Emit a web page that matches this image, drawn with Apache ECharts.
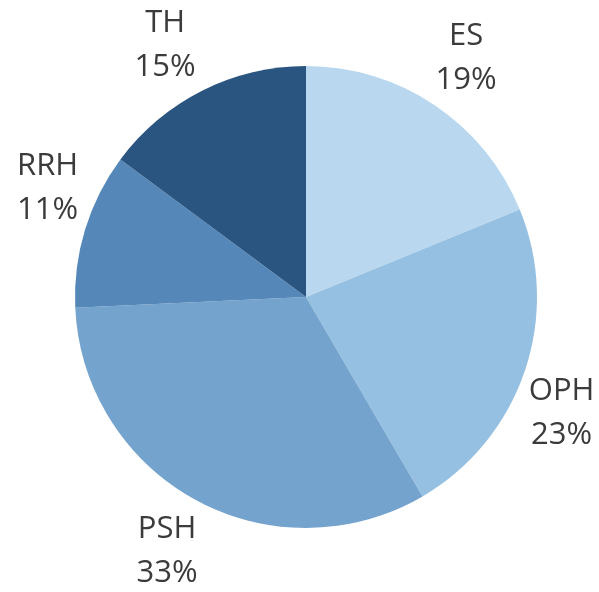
<!DOCTYPE html>
<html>
<head>
<meta charset="utf-8">
<script src="https://cdn.jsdelivr.net/npm/echarts@6/dist/echarts.min.js"></script>
<style>
  html, body { margin: 0; padding: 0; background: #fff; }
  #main { width: 599px; height: 592px; }
</style>
</head>
<body>
<div id="main"></div>
<script>
var categories = ['ES', 'OPH', 'PSH', 'RRH', 'TH']
var values = [19, 23, 33, 11, 15]
var colors = ['#b9d8ef', '#96c0e1', '#74a3cd', '#5588b8', '#2a5581']

// small nudges so labels sit where the original (best-fit) placed them
var labelNudge = {
  ES: [-2, 3],
  OPH: [-20, 23],
  PSH: [0, -2],
  RRH: [20, -24],
  TH: [-10, 8]
}

var chart = echarts.init(document.getElementById('main'))
chart.setOption({
  animation: false,
  series: [
    {
      // the pie itself
      type: 'pie',
      center: [306, 297],
      radius: [0, 231],
      startAngle: 90,
      clockwise: true,
      silent: true,
      label: { show: false },
      labelLine: { show: false },
      data: categories.map(function (name, i) {
        return { name: name, value: values[i], itemStyle: { color: colors[i] } }
      })
    },
    {
      // invisible ring that carries the labels, centred outside the slices
      type: 'pie',
      center: [306, 297],
      radius: [252, 324],
      startAngle: 90,
      clockwise: true,
      silent: true,
      itemStyle: { color: 'rgba(0,0,0,0)' },
      label: {
        show: true,
        position: 'inside',
        formatter: '{b}\n{c}%',
        fontFamily: 'Open Sans',
        fontSize: 31,
        lineHeight: 44,
        color: '#3b3b3b'
      },
      labelLine: { show: false },
      data: categories.map(function (name, i) {
        return { name: name, value: values[i], label: { offset: labelNudge[name] } }
      })
    }
  ]
})
</script>
</body>
</html>
